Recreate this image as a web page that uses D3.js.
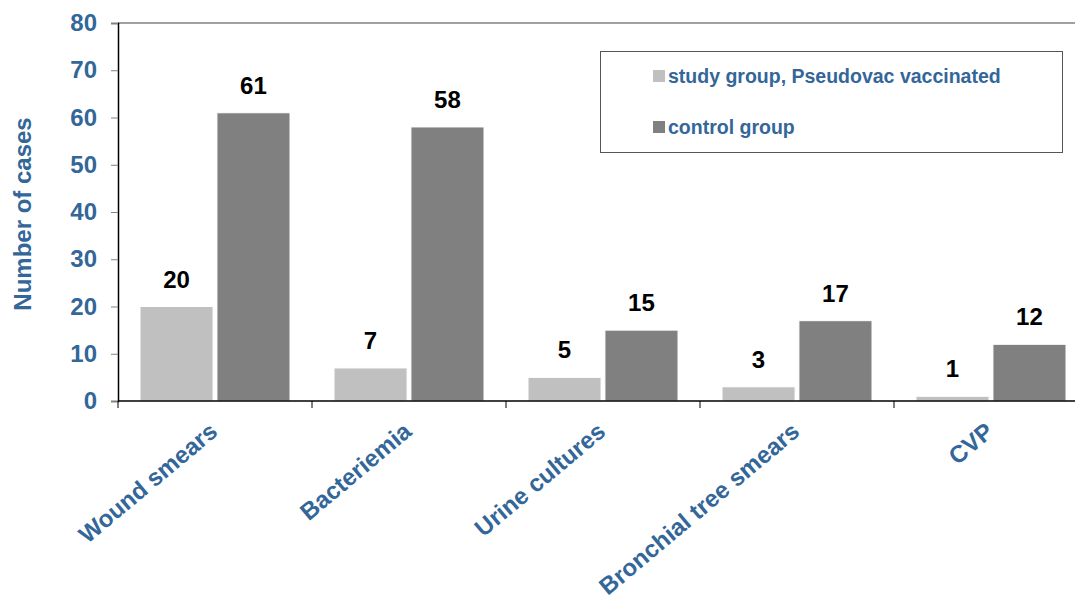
<!DOCTYPE html>
<html>
<head>
<meta charset="utf-8">
<script src="https://cdn.jsdelivr.net/npm/d3@7"></script>
<style>
  body { margin: 0; background: #fff; }
  text { font-family: "Liberation Sans", Arial, sans-serif; font-weight: bold; }
</style>
</head>
<body>
<div id="chart"></div>
<script>
const categories = ["Wound smears", "Bacteriemia", "Urine cultures", "Bronchial tree smears", "CVP"];
const seriesNames = ["study group, Pseudovac vaccinated", "control group"];
const studyValues = [20, 7, 5, 3, 1];
const controlValues = [61, 58, 15, 17, 12];
const yTicks = [0, 10, 20, 30, 40, 50, 60, 70, 80];

const width = 1075, height = 598;
const blue = "#336699";
const colors = ["#c0c0c0", "#808080"];

const svg = d3.select("#chart").append("svg")
    .attr("width", width)
    .attr("height", height);

// plot area
const plotLeft = 118, plotTop = 23, plotBottom = 401, step = 194;

const x0 = d3.scaleBand()
    .domain(categories)
    .range([plotLeft, plotLeft + step * categories.length]);

const x1 = d3.scaleBand()
    .domain(seriesNames)
    .range([22, 172])
    .paddingInner(0.05);

const y = d3.scaleLinear()
    .domain([0, 80])
    .range([plotBottom, plotTop]);

const rows = categories.map((c, i) => ({
    cat: c,
    vals: [
        { s: seriesNames[0], v: studyValues[i] },
        { s: seriesNames[1], v: controlValues[i] }
    ]
}));

// top border
svg.append("line")
    .attr("x1", plotLeft).attr("x2", width)
    .attr("y1", plotTop).attr("y2", plotTop)
    .attr("stroke", "#808080").attr("stroke-width", 1.5);

// y axis
const yAxis = svg.append("g")
    .attr("transform", `translate(${plotLeft},0)`)
    .call(d3.axisLeft(y).tickValues(yTicks).tickSize(7).tickPadding(14));
yAxis.select(".domain").attr("stroke", "#000").attr("stroke-width", 1.5);
yAxis.selectAll(".tick line").attr("stroke", "#808080");
yAxis.selectAll(".tick text")
    .attr("fill", blue)
    .style("font-size", "24px")
    .style("font-family", "'Liberation Sans', Arial, sans-serif")
    .style("font-weight", "bold");

// bars
const groups = svg.append("g").selectAll("g")
    .data(rows)
    .enter().append("g")
    .attr("transform", d => `translate(${x0(d.cat)},0)`);

groups.selectAll("rect")
    .data(d => d.vals)
    .enter().append("rect")
    .attr("x", d => x1(d.s))
    .attr("y", d => y(d.v))
    .attr("width", x1.bandwidth())
    .attr("height", d => y(0) - y(d.v))
    .attr("fill", (d, i) => colors[i])
    .attr("stroke", "#fff")
    .attr("stroke-width", 1);

groups.selectAll("text.val")
    .data(d => d.vals)
    .enter().append("text")
    .attr("class", "val")
    .attr("x", d => x1(d.s) + x1.bandwidth() / 2)
    .attr("y", d => y(d.v) - 19)
    .attr("text-anchor", "middle")
    .style("font-size", "24px")
    .attr("fill", "#000")
    .text(d => d.v);

// x axis
svg.append("line")
    .attr("x1", plotLeft).attr("x2", width)
    .attr("y1", plotBottom).attr("y2", plotBottom)
    .attr("stroke", "#000").attr("stroke-width", 1.5);

svg.append("g").selectAll("line")
    .data(categories)
    .enter().append("line")
    .attr("x1", d => x0(d)).attr("x2", d => x0(d))
    .attr("y1", plotBottom).attr("y2", plotBottom + 7)
    .attr("stroke", "#000");

svg.append("g").selectAll("text")
    .data(categories)
    .enter().append("text")
    .attr("transform", d => `translate(${x0(d) + x0.bandwidth() / 2 + 4},434) rotate(-40)`)
    .attr("text-anchor", "end")
    .attr("fill", blue)
    .style("font-size", "24px")
    .text(d => d);

// y title
svg.append("text")
    .attr("transform", "translate(31,214) rotate(-90)")
    .attr("text-anchor", "middle")
    .attr("fill", blue)
    .style("font-size", "24px")
    .text("Number of cases");

// legend
const legend = svg.append("g");
legend.append("rect")
    .attr("x", 600.5).attr("y", 51.5)
    .attr("width", 462).attr("height", 101)
    .attr("fill", "#fff")
    .attr("stroke", "#555");

const items = legend.selectAll("g")
    .data(seriesNames)
    .enter().append("g")
    .attr("transform", (d, i) => `translate(653,${70 + i * 51})`);

items.append("rect")
    .attr("width", 12).attr("height", 12)
    .attr("fill", (d, i) => colors[i]);

items.append("text")
    .attr("x", 15).attr("y", 13)
    .attr("fill", blue)
    .style("font-size", "19.5px")
    .text(d => d);
</script>
</body>
</html>
